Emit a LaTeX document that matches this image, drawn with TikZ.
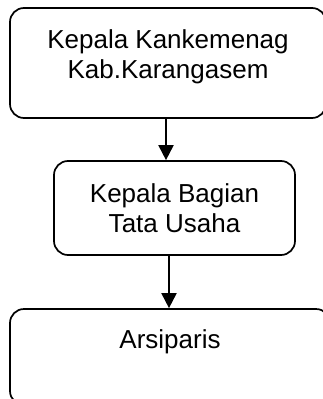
\documentclass[tikz,border=0pt]{standalone}
\usepackage{fontspec}
\setmainfont{Liberation Sans}
\usetikzlibrary{arrows.meta, positioning}

\begin{document}
\begin{tikzpicture}[x = 1pt, y = -1pt,
		jabatan/.style = {draw, line width = 1.7pt, rounded corners = 14pt, align = center,
			inner sep = 0pt, font = \fontsize{26}{30}\selectfont},
		teks/.style = {align = center, inner sep = 0pt, font = \fontsize{26}{30}\selectfont},
		panah/.style = {-{Triangle[length = 15pt, width = 15pt]}, line width = 1.9pt}]
		\useasboundingbox (0, 0) rectangle (323, 399);

		\node [jabatan, minimum width = 316pt, minimum height = 110pt] (kakan) at (168, 63) {};
		\node [teks] (kakanText) at (168, 57) {Kepala Kankemenag\\Kab.Karangasem};
		\node [jabatan, minimum width = 241pt, minimum height = 94pt] (kabag) at (174.5, 208) {Kepala Bagian\\Tata Usaha};
		\node [jabatan, minimum width = 320pt, minimum height = 96pt] (arsip) at (170, 357) {};
		\node [teks] (arsipText) at (170, 342) {Arsiparis};

		\draw [panah] ([xshift = -2pt]kakan.south) -- ([xshift = -8.5pt]kabag.north);
		\draw [panah] ([xshift = -5.5pt]kabag.south) -- ([xshift = -1pt]arsip.north);
	\end{tikzpicture}
\end{document}
